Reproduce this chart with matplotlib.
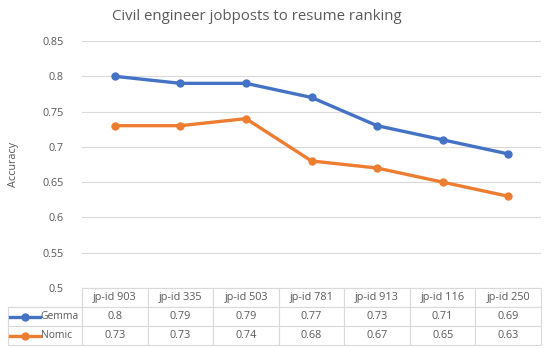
import matplotlib
matplotlib.use("Agg")
import matplotlib.pyplot as plt
from matplotlib.lines import Line2D

categories = ["jp-id 903", "jp-id 335", "jp-id 503", "jp-id 781", "jp-id 913", "jp-id 116", "jp-id 250"]
gemma = [0.8, 0.79, 0.79, 0.77, 0.73, 0.71, 0.69]
nomic = [0.73, 0.73, 0.74, 0.68, 0.67, 0.65, 0.63]
series_names = ["Gemma", "Nomic"]
yticks = [0.5, 0.55, 0.6, 0.65, 0.7, 0.75, 0.8, 0.85]

plt.rcParams['font.family'] = ['Open Sans', 'DejaVu Sans']
TXT = '#595959'
BLUE = '#4472C4'
ORANGE = '#ED7D31'
GRID = '#D9D9D9'

W, H = 550, 349
fig = plt.figure(figsize=(W / 100, H / 100), dpi=100)
L, R, T, B = 82, 541, 41, 288
ax = fig.add_axes([L / W, 1 - B / H, (R - L) / W, (B - T) / H])

x = list(range(len(categories)))
ax.plot(x, gemma, color=BLUE, lw=2.4, marker='o', ms=5, zorder=3)
ax.plot(x, nomic, color=ORANGE, lw=2.4, marker='o', ms=5, zorder=3)
ax.set_xlim(-0.5, len(categories) - 0.5)
ax.set_ylim(0.5, 0.85)
ax.set_yticks(yticks)
ax.set_yticklabels([f"{v:g}" for v in yticks])
ax.tick_params(axis='y', length=0, pad=13, labelsize=7.8, colors=TXT)
ax.set_xticks([])
ax.grid(axis='y', color=GRID, lw=0.8)
ax.set_axisbelow(True)
for s in ax.spines.values():
    s.set_visible(False)
ax.set_ylabel("Accuracy", fontsize=7.8, color=TXT)
ax.yaxis.set_label_coords(-63 / (R - L), 0.5)

fig.text(257 / W, 1 - 16 / H, "Civil engineer jobposts to resume ranking",
         ha='center', va='center', fontsize=10.8, color=TXT)

# data table
cell_text = [[""] + [f"{v:g}" for v in gemma], [""] + [f"{v:g}" for v in nomic]]
tx0, ty1, ty0 = 8, 288, 345
tab_w = R - tx0
col_w = [L - tx0] + [(R - L) / len(categories)] * len(categories)
table = ax.table(cellText=cell_text, colLabels=[""] + categories,
                 colWidths=[c / tab_w for c in col_w],
                 bbox=[(tx0 - L) / (R - L), -(ty0 - B) / (B - T), tab_w / (R - L), (ty0 - ty1) / (B - T)],
                 cellLoc='center')
table.auto_set_font_size(False)
for (r, c), cell in table.get_celld().items():
    cell.set_edgecolor(GRID)
    cell.set_linewidth(0.8)
    cell.get_text().set_color(TXT)
    cell.get_text().set_fontsize(7.8)
table[(0, 0)].visible_edges = 'BR'

# row legend keys
rows_y = [316.5, 335.5]
for yy, name, col in zip(rows_y, series_names, [BLUE, ORANGE]):
    fy = 1 - yy / H
    fig.add_artist(Line2D([10 / W, 40 / W], [fy, fy], color=col, lw=2.4, transform=fig.transFigure))
    fig.add_artist(Line2D([25 / W], [fy], color=col, marker='o', ms=5, transform=fig.transFigure))
    fig.text(40.5 / W, fy, name, ha='left', va='center', fontsize=7.4, color=TXT)

fig.savefig("out.png", dpi=100, facecolor='white')
